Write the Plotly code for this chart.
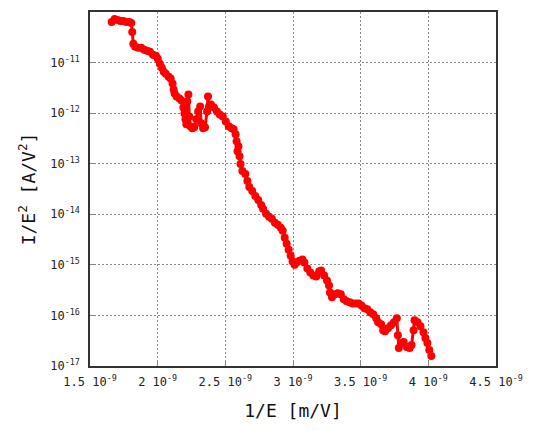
import plotly.graph_objects as go

# Fowler-Nordheim data: inverse field 1/E [m/V] vs I/E^2 [A/V^2]
inv_field = [
    1.660e-9, 1.682e-9, 1.703e-9, 1.725e-9, 1.747e-9, 1.769e-9, 1.791e-9, 1.805e-9,
    1.812e-9, 1.820e-9, 1.834e-9, 1.856e-9, 1.878e-9, 1.900e-9, 1.922e-9, 1.943e-9,
    1.965e-9, 1.987e-9, 2.001e-9, 2.016e-9, 2.031e-9, 2.045e-9, 2.060e-9, 2.081e-9,
    2.096e-9, 2.110e-9, 2.118e-9, 2.125e-9, 2.140e-9, 2.161e-9, 2.176e-9, 2.190e-9,
    2.198e-9, 2.205e-9, 2.212e-9, 2.219e-9, 2.227e-9, 2.234e-9, 2.241e-9, 2.256e-9,
    2.270e-9, 2.285e-9, 2.299e-9, 2.314e-9, 2.321e-9, 2.336e-9, 2.350e-9, 2.365e-9,
    2.372e-9, 2.379e-9, 2.394e-9, 2.416e-9, 2.438e-9, 2.459e-9, 2.481e-9, 2.503e-9,
    2.525e-9, 2.547e-9, 2.561e-9, 2.576e-9, 2.583e-9, 2.590e-9, 2.597e-9, 2.605e-9,
    2.612e-9, 2.626e-9, 2.648e-9, 2.663e-9, 2.677e-9, 2.699e-9, 2.721e-9, 2.743e-9,
    2.765e-9, 2.779e-9, 2.801e-9, 2.823e-9, 2.844e-9, 2.866e-9, 2.888e-9, 2.910e-9,
    2.924e-9, 2.939e-9, 2.953e-9, 2.968e-9, 2.983e-9, 2.997e-9, 3.012e-9, 3.026e-9,
    3.048e-9, 3.070e-9, 3.084e-9, 3.106e-9, 3.128e-9, 3.150e-9, 3.172e-9, 3.193e-9,
    3.208e-9, 3.230e-9, 3.251e-9, 3.266e-9, 3.273e-9, 3.288e-9, 3.310e-9, 3.331e-9,
    3.353e-9, 3.375e-9, 3.397e-9, 3.419e-9, 3.440e-9, 3.462e-9, 3.484e-9, 3.506e-9,
    3.528e-9, 3.549e-9, 3.571e-9, 3.593e-9, 3.615e-9, 3.629e-9, 3.651e-9, 3.666e-9,
    3.680e-9, 3.702e-9, 3.724e-9, 3.746e-9, 3.767e-9, 3.775e-9, 3.782e-9, 3.804e-9,
    3.818e-9, 3.840e-9, 3.862e-9, 3.876e-9, 3.891e-9, 3.898e-9, 3.920e-9, 3.942e-9,
    3.964e-9, 3.978e-9, 3.993e-9, 4.007e-9, 4.022e-9,
]

current_over_field_sq = [
    6.36e-11, 7.28e-11, 6.97e-11, 6.65e-11, 6.65e-11, 6.36e-11, 6.36e-11, 6.08e-11,
    4.04e-11, 2.35e-11, 2.05e-11, 1.96e-11, 1.96e-11, 1.79e-11, 1.71e-11, 1.64e-11,
    1.43e-11, 1.36e-11, 1.19e-11, 9.50e-12, 7.93e-12, 6.61e-12, 6.04e-12, 5.27e-12,
    4.82e-12, 3.84e-12, 2.92e-12, 2.44e-12, 2.13e-12, 1.95e-12, 1.78e-12, 1.30e-12,
    9.87e-13, 7.53e-13, 6.00e-13, 1.70e-12, 2.33e-12, 8.61e-13, 5.48e-13, 5.01e-13,
    5.24e-13, 7.53e-13, 1.08e-12, 1.36e-12, 6.28e-13, 5.01e-13, 5.24e-13, 1.08e-12,
    2.13e-12, 1.36e-12, 1.48e-12, 1.30e-12, 1.08e-12, 9.43e-13, 8.61e-13, 6.87e-13,
    5.48e-13, 5.01e-13, 4.79e-13, 3.82e-13, 2.78e-13, 1.77e-13, 2.22e-13, 1.41e-13,
    9.82e-14, 7.14e-14, 6.24e-14, 4.54e-14, 3.46e-14, 2.89e-14, 2.31e-14, 1.92e-14,
    1.53e-14, 1.28e-14, 1.02e-14, 8.91e-15, 8.13e-15, 6.79e-15, 6.19e-15, 5.41e-15,
    4.72e-15, 3.44e-15, 2.62e-15, 2.00e-15, 1.52e-15, 1.16e-15, 1.01e-15, 1.11e-15,
    1.21e-15, 1.27e-15, 1.11e-15, 8.45e-16, 7.05e-16, 6.17e-16, 5.89e-16, 7.38e-16,
    7.73e-16, 6.17e-16, 4.91e-16, 3.92e-16, 2.85e-16, 2.28e-16, 2.61e-16, 2.73e-16,
    2.61e-16, 2.08e-16, 1.90e-16, 1.82e-16, 1.73e-16, 1.73e-16, 1.73e-16, 1.58e-16,
    1.38e-16, 1.32e-16, 1.15e-16, 1.05e-16, 8.79e-17, 7.33e-17, 6.70e-17, 5.11e-17,
    4.88e-17, 5.59e-17, 6.40e-17, 7.33e-17, 8.79e-17, 4.07e-17, 2.26e-17, 2.84e-17,
    2.97e-17, 2.37e-17, 2.26e-17, 2.59e-17, 5.11e-17, 8.03e-17, 7.33e-17, 6.12e-17,
    4.67e-17, 3.56e-17, 2.84e-17, 2.07e-17, 1.57e-17,
]

x_tick_vals = [1.5e-9, 2.0e-9, 2.5e-9, 3.0e-9, 3.5e-9, 4.0e-9, 4.5e-9]
x_tick_text = ["1.5 10<sup>-9</sup>", "2 10<sup>-9</sup>", "2.5 10<sup>-9</sup>",
               "3 10<sup>-9</sup>", "3.5 10<sup>-9</sup>", "4 10<sup>-9</sup>",
               "4.5 10<sup>-9</sup>"]
y_tick_vals = [1e-17, 1e-16, 1e-15, 1e-14, 1e-13, 1e-12, 1e-11]
y_tick_text = ["10<sup>-17</sup>", "10<sup>-16</sup>", "10<sup>-15</sup>",
               "10<sup>-14</sup>", "10<sup>-13</sup>", "10<sup>-12</sup>",
               "10<sup>-11</sup>"]

FONT = "DejaVu Sans Mono, Noto Sans CJK JP, sans-serif"

fig = go.Figure()
fig.add_trace(go.Scatter(
    x=inv_field,
    y=current_over_field_sq,
    mode="lines+markers",
    line=dict(color="#ff0000", width=3),
    marker=dict(color="#ff0000", size=8, symbol="circle"),
    showlegend=False,
))

axis_common = dict(
    showline=True, linecolor="#333333", linewidth=1.5, mirror=True,
    showgrid=True, gridcolor="#888888", griddash="2px,2px", gridwidth=1,
    ticks="inside", ticklen=6, tickcolor="#888888", tickwidth=1,
    zeroline=False,
    tickfont=dict(family=FONT, size=12, color="#222222"),
)

fig.update_xaxes(
    range=[1.5e-9, 4.5e-9],
    tickmode="array", tickvals=x_tick_vals, ticktext=x_tick_text,
    ticklabelstandoff=4,
    title=dict(text="1/E [m/V]", font=dict(family=FONT, size=18, color="#111111"),
               standoff=16),
    **axis_common,
)
fig.update_yaxes(
    type="log", range=[-17, -10],
    tickmode="array", tickvals=y_tick_vals, ticktext=y_tick_text,
    ticklabelstandoff=6,
    title=dict(text="I/E<sup>2</sup> [A/V<sup>2</sup>]",
               font=dict(family=FONT, size=18, color="#111111"), standoff=10),
    **axis_common,
)

fig.update_layout(
    width=533, height=431,
    margin=dict(l=90, r=30, t=10, b=65),
    paper_bgcolor="white", plot_bgcolor="white",
)

fig.write_html("out.html")
